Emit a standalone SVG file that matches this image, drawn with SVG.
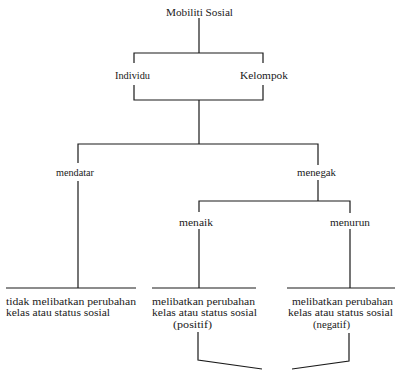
<svg xmlns="http://www.w3.org/2000/svg" width="397" height="370" viewBox="0 0 397 370">
<style>
text{font-family:"Liberation Serif","Times New Roman",serif;font-size:11px;fill:#1a1a1a}
.c{text-anchor:middle}
.k path{fill:none;stroke:#1a1a1a;stroke-width:1.2}
</style>
<rect width="397" height="370" fill="#fff"/>
<g class="k" id="connectors">
<path d="M199 18V53M134 63V53H263V63"/>
<path d="M134 85V100H263V85M199 100V144"/>
<path d="M78 163V144H318V165"/>
<path d="M78 181V288M6 288H136"/>
<path d="M318 180V201M199 212V201H350V213"/>
<path d="M199 229V288M152 288H256"/>
<path d="M350 229V288M287 288H395"/>
<path d="M198 332V360L262 369M349 333V361L292 369"/>
</g>
<g id="mobiliti"><text class="c" x="199.5" y="16" textLength="67" lengthAdjust="spacingAndGlyphs">Mobiliti Sosial</text></g>
<g id="individu"><text class="c" x="132.5" y="79" textLength="35" lengthAdjust="spacingAndGlyphs">Individu</text></g>
<g id="kelompok"><text class="c" x="264" y="79" textLength="48" lengthAdjust="spacingAndGlyphs">Kelompok</text></g>
<g id="mendatar"><text class="c" x="75" y="176" textLength="38" lengthAdjust="spacingAndGlyphs">mendatar</text></g>
<g id="menegak"><text class="c" x="316.5" y="176" textLength="39" lengthAdjust="spacingAndGlyphs">menegak</text></g>
<g id="menaik"><text class="c" x="196" y="226" textLength="34" lengthAdjust="spacingAndGlyphs">menaik</text></g>
<g id="menurun"><text class="c" x="350" y="226" textLength="40" lengthAdjust="spacingAndGlyphs">menurun</text></g>
<g id="tidak">
<text x="6" y="305" textLength="130" lengthAdjust="spacingAndGlyphs">tidak melibatkan perubahan</text>
<text x="6" y="316" textLength="104" lengthAdjust="spacingAndGlyphs">kelas atau status sosial</text>
</g>
<g id="positif">
<text x="152" y="305" textLength="103" lengthAdjust="spacingAndGlyphs">melibatkan perubahan</text>
<text x="152" y="316" textLength="105" lengthAdjust="spacingAndGlyphs">kelas atau status sosial</text>
<text x="173" y="328" textLength="39" lengthAdjust="spacingAndGlyphs">(positif)</text>
</g>
<g id="negatif">
<text x="292" y="305" textLength="101" lengthAdjust="spacingAndGlyphs">melibatkan perubahan</text>
<text x="288" y="316" textLength="105" lengthAdjust="spacingAndGlyphs">kelas atau status sosial</text>
<text x="313" y="328" textLength="37" lengthAdjust="spacingAndGlyphs">(negatif)</text>
</g>
</svg>
